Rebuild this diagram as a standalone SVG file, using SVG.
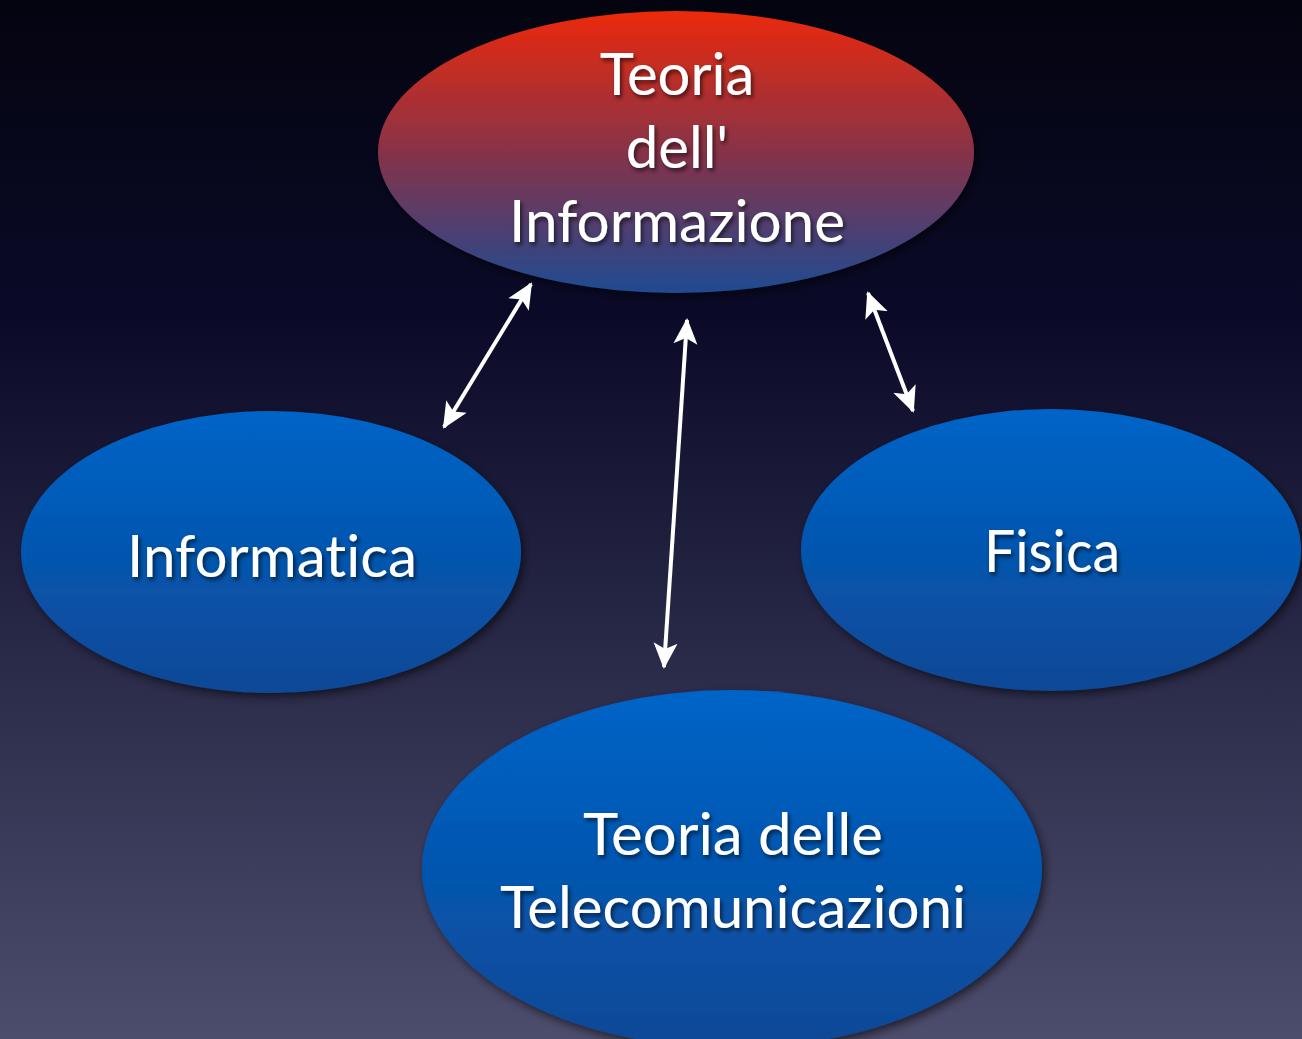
<svg xmlns="http://www.w3.org/2000/svg" width="1302" height="1039" viewBox="0 0 1302 1039">
<defs>
<linearGradient id="bg" x1="0" y1="0" x2="0" y2="1">
<stop offset="0" stop-color="#040410"/>
<stop offset="0.3" stop-color="#0a0a28"/>
<stop offset="1" stop-color="#4c4c6c"/>
</linearGradient>
<linearGradient id="red" x1="0" y1="0" x2="0" y2="1">
<stop offset="0" stop-color="#ec2a0c"/>
<stop offset="0.5" stop-color="#873248"/>
<stop offset="1" stop-color="#1f4a92"/>
</linearGradient>
<linearGradient id="blue" x1="0" y1="0" x2="0" y2="1">
<stop offset="0" stop-color="#0064c8"/>
<stop offset="1" stop-color="#0b4896"/>
</linearGradient>
<filter id="sh" x="-10%" y="-10%" width="130%" height="130%">
<feDropShadow dx="3" dy="4" stdDeviation="4" flood-color="#000" flood-opacity="0.55"/>
</filter>
<filter id="tsh" x="-10%" y="-20%" width="130%" height="150%">
<feDropShadow dx="2" dy="3" stdDeviation="2" flood-color="#000" flood-opacity="0.6"/>
</filter>
<marker id="ah" viewBox="0 0 26 26" refX="24" refY="13" markerWidth="26" markerHeight="26" orient="auto-start-reverse" markerUnits="userSpaceOnUse">
<path d="M0,1 L26,13 L0,25 L6,13 Z" fill="#fff"/>
</marker>
</defs>
<style>
.lbl{font-family:Lato,"Open Sans","DejaVu Sans",sans-serif;font-size:58px;fill:#fff;text-anchor:middle;filter:url(#tsh);font-variant-ligatures:none}
.con{stroke:#fff;stroke-width:4;fill:none;marker-start:url(#ah);marker-end:url(#ah)}
</style>
<rect width="1302" height="1039" fill="url(#bg)"/>
<g id="connectors">
<line class="con" x1="531" y1="284" x2="444" y2="427"/>
<line class="con" x1="687" y1="320" x2="664" y2="667"/>
<line class="con" x1="868" y1="293" x2="913" y2="411"/>
</g>
<g id="node-teoria-informazione">
<ellipse cx="676" cy="152" rx="298" ry="141" fill="url(#red)" filter="url(#sh)"/>
<text class="lbl" x="677" y="95">Teoria</text>
<text class="lbl" x="677" y="168">dell'</text>
<text class="lbl" x="677" y="242" textLength="336" lengthAdjust="spacingAndGlyphs">Informazione</text>
</g>
<g id="node-informatica">
<ellipse cx="271" cy="552" rx="250" ry="141" fill="url(#blue)" filter="url(#sh)"/>
<text class="lbl" x="272" y="577" textLength="290" lengthAdjust="spacingAndGlyphs">Informatica</text>
</g>
<g id="node-fisica">
<ellipse cx="1051" cy="550" rx="250" ry="141" fill="url(#blue)" filter="url(#sh)"/>
<text class="lbl" x="1052" y="572" textLength="136" lengthAdjust="spacingAndGlyphs">Fisica</text>
</g>
<g id="node-telecomunicazioni">
<ellipse cx="732" cy="869" rx="310" ry="179" fill="url(#blue)" filter="url(#sh)"/>
<text class="lbl" x="733" y="855" textLength="300" lengthAdjust="spacingAndGlyphs">Teoria delle</text>
<text class="lbl" x="733" y="928" textLength="466" lengthAdjust="spacingAndGlyphs">Telecomunicazioni</text>
</g>
</svg>
